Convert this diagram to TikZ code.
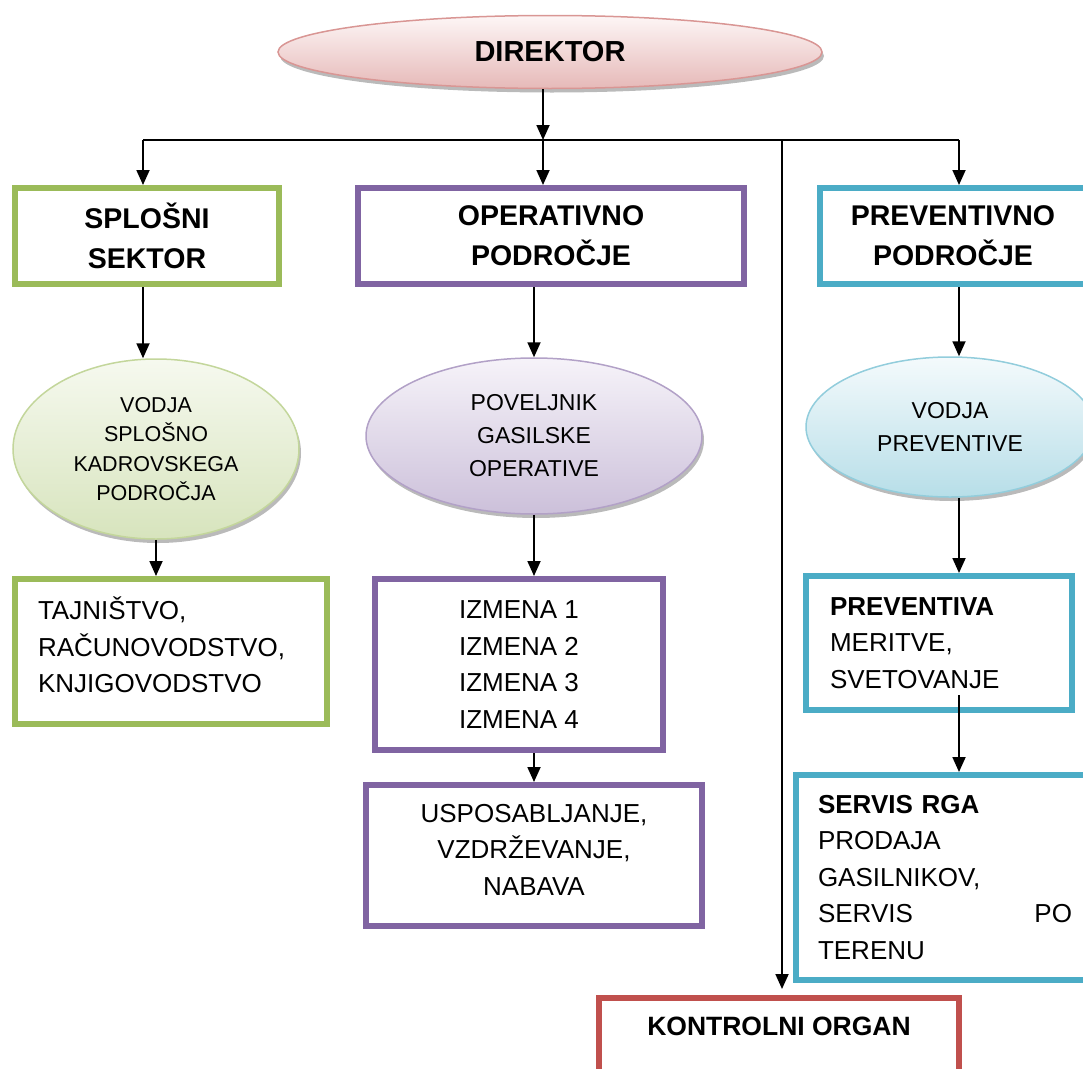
\documentclass[tikz,border=0pt]{standalone}
\usepackage{fontspec}
\setmainfont{Liberation Sans}
\usetikzlibrary{arrows.meta,shapes.geometric,shadows}

\definecolor{zelena}{HTML}{9BBB59}
\definecolor{vijola}{HTML}{8064A2}
\definecolor{modra}{HTML}{4BACC6}
\definecolor{rdeca}{HTML}{C0504D}
\definecolor{pinkrob}{HTML}{D99694}
\definecolor{pinkgor}{HTML}{FDF6F6}
\definecolor{pinkdol}{HTML}{E6B9B8}
\definecolor{zelrob}{HTML}{C3D69B}
\definecolor{zelgor}{HTML}{F6F9EF}
\definecolor{zeldol}{HTML}{D7E4BD}
\definecolor{vijrob}{HTML}{B2A1C7}
\definecolor{vijgor}{HTML}{F6F3F9}
\definecolor{vijdol}{HTML}{CCC0DA}
\definecolor{modrob}{HTML}{92CDDC}
\definecolor{modgor}{HTML}{F4FAFC}
\definecolor{moddol}{HTML}{B7DEE8}

\begin{document}
\begin{tikzpicture}[x=1pt, y=-1pt,
	glava/.style={rectangle, draw=#1, line width=6pt, fill=white, inner sep=0pt, minimum height=96pt, align=center, font=\fontsize{28.5}{40}\selectfont\bfseries},
	okvir/.style={rectangle, draw=#1, line width=6pt, fill=white, inner sep=0pt, align=center, font=\fontsize{26}{36.5}\selectfont},
	oval/.style n args={3}{ellipse, draw=#1, line width=1.5pt, top color=#2, bottom color=#3, inner sep=0pt, align=center, font=\fontsize{23}{33}\selectfont, drop shadow={shadow xshift=2pt, shadow yshift=-4pt, fill=black!60, opacity=.45}},
	puscica/.style={line width=1.8pt, -{Triangle[width=13pt,length=15pt]}}
]
	\useasboundingbox (0,0) rectangle (1083,1068);
	\clip (0,0) rectangle (1083,1068);

	\node[oval={pinkrob}{pinkgor}{pinkdol}, minimum width=544pt, minimum height=73pt, font=\fontsize{29}{33}\selectfont\bfseries] (direktor) at (550,52) {DIREKTOR};

	\node[glava=zelena, minimum width=264pt] (splosni) at (147,236) {SPLOŠNI\\SEKTOR};
	\node[glava=vijola, minimum width=386pt] (operativno) at (551,236) {OPERATIVNO\\PODROČJE};
	\node[glava=modra, minimum width=266pt] (preventivno) at (953,236) {PREVENTIVNO\\PODROČJE};

	\node[oval={zelrob}{zelgor}{zeldol}, minimum width=286pt, minimum height=180pt, font=\fontsize{21.5}{29.5}\selectfont] (vodjasplosno) at (156,449) {VODJA\\SPLOŠNO\\KADROVSKEGA\\PODROČJA};
	\node[oval={vijrob}{vijgor}{vijdol}, minimum width=336pt, minimum height=156pt] (poveljnik) at (534,436) {POVELJNIK\\GASILSKE\\OPERATIVE};
	\node[oval={modrob}{modgor}{moddol}, minimum width=288pt, minimum height=140pt] (vodjaprev) at (950,427) {VODJA\\PREVENTIVE};

	\node[okvir=zelena, minimum height=145pt, align=left, text width=266pt, inner xsep=23pt, text depth=86pt] (tajnistvo) at (171,651.5) {TAJNIŠTVO,\\RAČUNOVODSTVO,\\KNJIGOVODSTVO};
	\node[okvir=vijola, minimum width=288pt, minimum height=171pt] (izmena) at (519,664.5) {IZMENA 1\\IZMENA 2\\IZMENA 3\\IZMENA 4};
	\node[okvir=vijola, minimum height=141pt, text width=300pt, inner xsep=18pt, text depth=85pt] (usposabljanje) at (534,855.5) {USPOSABLJANJE,\\VZDRŽEVANJE,\\NABAVA};
	\node[okvir=modra, minimum height=134pt, align=left, text width=218pt, inner xsep=24pt] (preventiva) at (939,643) {\textbf{PREVENTIVA}\\MERITVE,\\SVETOVANJE};
	\node[okvir=modra, minimum height=205pt, align=left, text width=254pt, inner xsep=22pt] (servis) at (945,877.5) {\textbf{SERVIS RGA}\\PRODAJA\\GASILNIKOV,\\SERVIS\hfill PO\\TERENU};
	\node[okvir=rdeca, minimum width=360pt, minimum height=80pt, text height=19pt, text depth=25pt, font=\fontsize{26.5}{36}\selectfont\bfseries, anchor=north] (kontrolni) at (779,995) {KONTROLNI ORGAN};

	\coordinate (jl) at (143,140);
	\coordinate (jc) at (543,140);
	\coordinate (jk) at (782,140);
	\coordinate (jr) at (959,140);

	\draw[puscica] (direktor.south -| jc) -- (jc);
	\draw[line width=1.8pt] (jl) -- (jr);
	\draw[puscica] (jl) -- (jl |- splosni.north);
	\draw[puscica] (jc) -- (jc |- operativno.north);
	\draw[puscica] (jr) -- (jr |- preventivno.north);
	\draw[puscica] (jk) -- ([yshift=6pt]jk |- kontrolni.north);

	\draw[puscica] (jl |- splosni.south) -- (jl |- vodjasplosno.north);
	\draw[puscica] (vodjasplosno.south) -- (vodjasplosno.south |- tajnistvo.north);

	\draw[puscica] (poveljnik.north |- operativno.south) -- (poveljnik.north);
	\draw[puscica] (poveljnik.south) -- (poveljnik.south |- izmena.north);
	\draw[puscica] (poveljnik.south |- izmena.south) -- (poveljnik.south |- usposabljanje.north);

	\draw[puscica] (jr |- preventivno.south) -- (jr |- vodjaprev.north);
	\draw[puscica] (jr |- vodjaprev.south) -- (jr |- preventiva.north);
	\draw[puscica] ([yshift=18pt]preventiva.south -| jr) -- (jr |- servis.north);
\end{tikzpicture}
\end{document}
